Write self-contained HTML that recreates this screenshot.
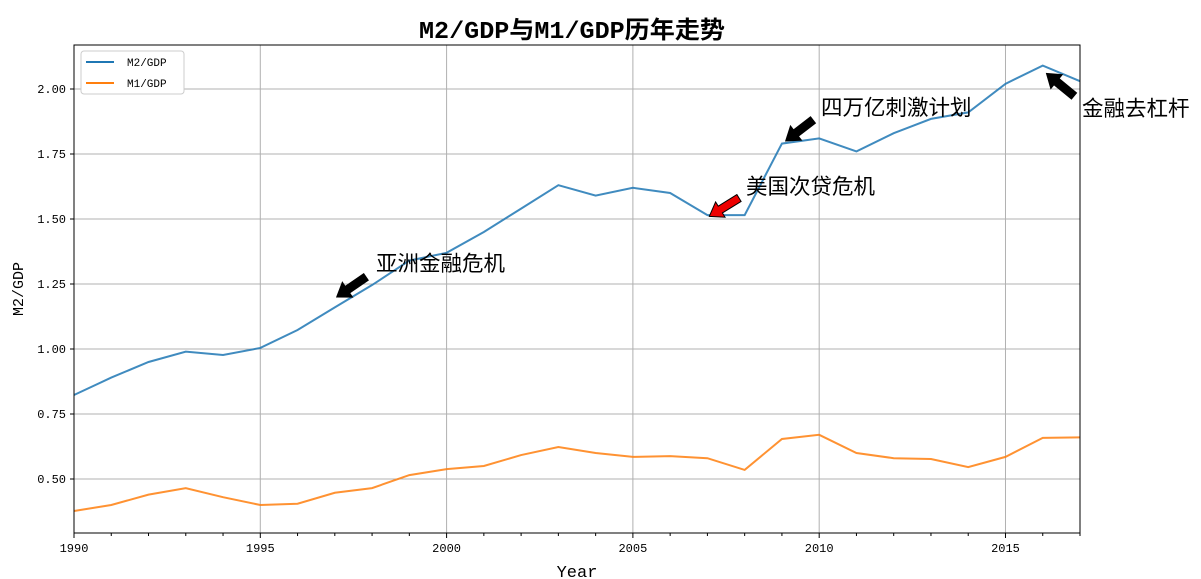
<!DOCTYPE html>
<html><head><meta charset="utf-8"><style>
html,body{margin:0;padding:0;background:#fff;}
svg{display:block;font-family:"Liberation Sans","Noto Sans CJK SC",sans-serif;}
.mono{font-family:"Liberation Mono","Noto Sans CJK SC",monospace;}
</style></head><body>
<svg id="chart" width="1201" height="579" viewBox="0 0 1201 579" xmlns="http://www.w3.org/2000/svg">
<text x="572" y="38" text-anchor="middle" font-size="24" font-weight="bold" fill="#000" class="mono" textLength="306" lengthAdjust="spacingAndGlyphs">M2/GDP与M1/GDP历年走势</text>
<g id="grid"></g>
<g id="series"></g>
<rect x="74" y="45" width="1006" height="488" fill="none" stroke="#000" stroke-width="1"/>
<g id="ticks"></g>
<text x="577" y="577" text-anchor="middle" font-size="17" class="mono">Year</text>
<text transform="translate(23,289) rotate(-90)" text-anchor="middle" font-size="15" class="mono">M2/GDP</text>
<g>
<rect x="81" y="51" width="103" height="43" rx="3" fill="#fff" stroke="#ccc"/>
<line x1="86" y1="62" x2="114" y2="62" stroke="#1f77b4" stroke-width="2"/>
<text x="127" y="66" font-size="11" class="mono">M2/GDP</text>
<line x1="86" y1="83" x2="114" y2="83" stroke="#ff7f0e" stroke-width="2"/>
<text x="127" y="87" font-size="11" class="mono">M1/GDP</text>
</g>
<g id="annots"></g>
</svg>
<script>
const years=[1990,1991,1992,1993,1994,1995,1996,1997,1998,1999,2000,2001,2002,2003,2004,2005,2006,2007,2008,2009,2010,2011,2012,2013,2014,2015,2016,2017];
const m2=[0.823,0.89,0.95,0.99,0.977,1.004,1.073,1.16,1.246,1.34,1.37,1.45,1.54,1.63,1.59,1.62,1.60,1.515,1.515,1.79,1.81,1.76,1.83,1.885,1.91,2.02,2.09,2.03];
const m1=[0.377,0.40,0.44,0.465,0.43,0.40,0.405,0.447,0.465,0.515,0.538,0.55,0.592,0.623,0.60,0.585,0.588,0.58,0.535,0.654,0.67,0.60,0.58,0.577,0.546,0.585,0.658,0.66];
const xTicks=[1990,1995,2000,2005,2010,2015];
const yTicks=[0.5,0.75,1.0,1.25,1.5,1.75,2.0];
const NS='http://www.w3.org/2000/svg';
const X0=74,X1=1080,Y0=45,Y1=533;
const x=v=>X0+(v-1990)*(X1-X0)/27;
const y=v=>89+(2.0-v)*260;
function mk(t,a,p){const e=document.createElementNS(NS,t);for(const k in a)e.setAttribute(k,a[k]);p.appendChild(e);return e;}
const grid=document.getElementById('grid'),ticks=document.getElementById('ticks');
xTicks.forEach(v=>{
 const g=mk('line',{x1:x(v),x2:x(v),y1:Y0,y2:Y1,stroke:'#b0b0b0','stroke-width':1},grid);
 
 
 const t=mk('text',{x:x(v),y:Y1+19,'text-anchor':'middle','font-size':12,'class':'mono'},ticks);t.textContent=v;
 
 
});
for(let v=1990;v<=2017;v++){mk('line',{x1:x(v),x2:x(v),y1:Y1,y2:Y1+(v%5==0?5:3),stroke:'#000'},ticks);}
yTicks.forEach(v=>{
 const g=mk('line',{x1:X0,x2:X1,y1:y(v),y2:y(v),stroke:'#b0b0b0','stroke-width':1},grid);
 
 
 mk('line',{x1:X0-4,x2:X0,y1:y(v),y2:y(v),stroke:'#000'},ticks);
 const t=mk('text',{x:X0-8,y:y(v)+4,'text-anchor':'end','font-size':12,'class':'mono'},ticks);t.textContent=v.toFixed(2);
 
 
});
const ser=document.getElementById('series');
[[m2,'#1f77b4','m2-gdp-line'],[m1,'#ff7f0e','m1-gdp-line']].forEach(([d,c,n])=>{
 const p=mk('polyline',{points:d.map((v,i)=>x(years[i])+','+y(v)).join(' '),fill:'none',stroke:c,'stroke-width':2,'stroke-opacity':0.85},ser);
 
 
});
const an=document.getElementById('annots');
function arrow(x1,y1,x2,y2,fill,name){
 const dx=x2-x1,dy=y2-y1,L=Math.hypot(dx,dy),ux=dx/L,uy=dy/L,px=-uy,py=ux;
 const hl=13,hw=9,sw=4;
 const bx=x2-ux*hl,by=y2-uy*hl;
 const pts=[[x1+px*sw,y1+py*sw],[bx+px*sw,by+py*sw],[bx+px*hw,by+py*hw],[x2,y2],[bx-px*hw,by-py*hw],[bx-px*sw,by-py*sw],[x1-px*sw,y1-py*sw]];
 const p=mk('polygon',{points:pts.map(q=>q.join(',')).join(' '),fill:fill,stroke:'#000','stroke-width':1},an);
 
 
}
function label(tx,ty,s,name){const t=mk('text',{x:tx,y:ty,'font-size':21.5},an);t.textContent=s;
 
 }
arrow(366,277,x(1997.05),y(1.2),'#000','asian-crisis-arrow');
label(376,271,'亚洲金融危机','asian-crisis-label');
arrow(739,198,x(2007.05),y(1.51),'#e00','subprime-crisis-arrow');
label(746,194,'美国次贷危机','subprime-crisis-label');
arrow(813,120,x(2009.1),y(1.8),'#000','stimulus-arrow');
label(821,115,'四万亿刺激计划','stimulus-label');
arrow(1074,96,x(2016.1),y(2.06),'#000','deleveraging-arrow');
label(1082,116,'金融去杠杆','deleveraging-label');
</script>
</body></html>
